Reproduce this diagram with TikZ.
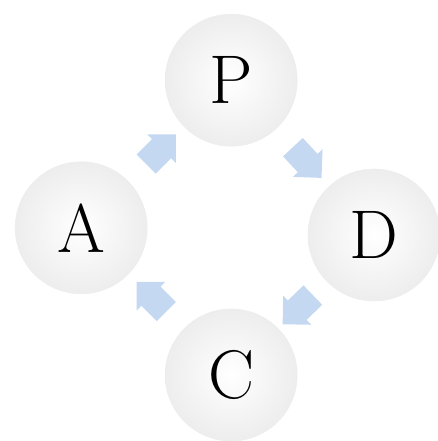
\documentclass[tikz,border=0pt]{standalone}
\usepackage{tikz}
\usetikzlibrary{
	shapes.arrows,
	calc
}
\usepackage{xcolor}
\definecolor{arrowblue}{RGB}{197,216,241}

\begin{document}
\begin{tikzpicture}[
	stage/.style={circle, minimum size=3.3cm, inner sep=0pt, draw=black!7,
		shading=radial, inner color=white, outer color=black!7,
		font=\fontsize{49}{49}\selectfont},
	flow/.style={single arrow, draw=none, fill=arrowblue,
		minimum height=1.05cm, minimum width=1cm,
		single arrow head extend=0.17cm, inner xsep=0pt, inner ysep=0.33cm}
	]
	
	\useasboundingbox (0,0) rectangle (10.95,11.025);
	
	% the four stages
	\node[stage] (P) at (5.78,9.02) {P};
	\node[stage] (A) at (2.03,5.33) {A};
	\node[stage] (D) at (9.35,5.15) {D};
	\node[stage] (C) at (5.78,1.65) {C};
	
	% arrows between them
	\node[flow, rotate=45] (AP) at ($(A)!0.5!(P)$) {};
	\node[flow, rotate=-47] (PD) at ($(P)!0.5!(D)$) {};
	\node[flow, rotate=-136] (DC) at ($(D)!0.5!(C)$) {};
	\node[flow, rotate=135] (CA) at ($(C)!0.5!(A)$) {};
	
\end{tikzpicture}
\end{document}
